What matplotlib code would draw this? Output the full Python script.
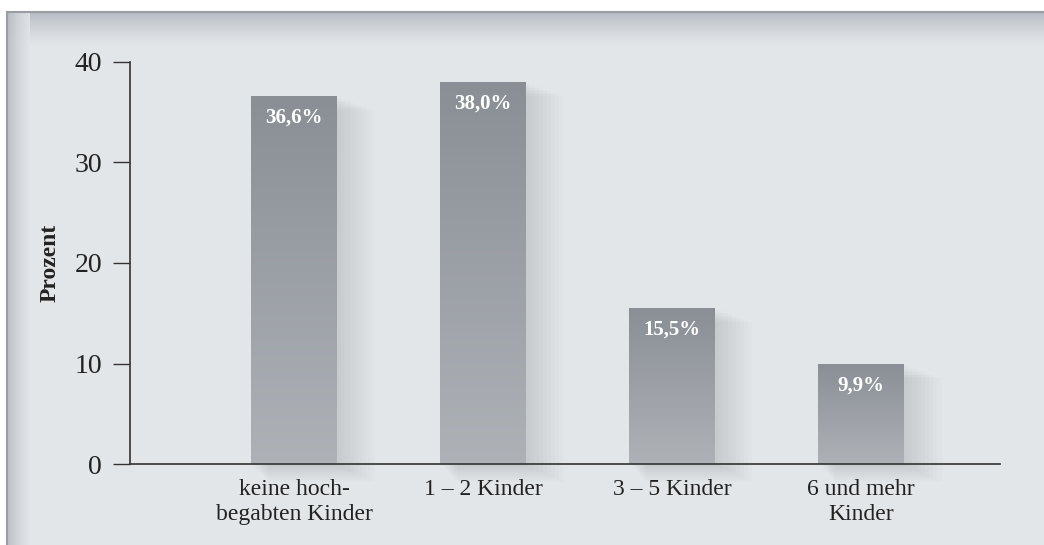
import numpy as np
import matplotlib.pyplot as plt
from matplotlib.patches import Rectangle

plt.rcParams['font.family'] = ['Liberation Serif', 'DejaVu Serif']

categories = ["keine hoch-\nbegabten Kinder", "1 – 2 Kinder", "3 – 5 Kinder", "6 und mehr\nKinder"]
values = [36.6, 38.0, 15.5, 9.9]
value_labels = ["36,6%", "38,0%", "15,5%", "9,9%"]
y_ticks = [0, 10, 20, 30, 40]

W, H = 1044, 545
fig = plt.figure(figsize=(W / 100, H / 100), dpi=100)
fig.patch.set_facecolor("white")

# background panel with shaded top/left edge
bg = fig.add_axes([0, 0, 1, 1])
bg.set_xlim(0, W)
bg.set_ylim(H, 0)
bg.axis("off")
bg.add_patch(Rectangle((7, 12), W, H, facecolor="#e3e6e9", edgecolor="none"))
c0 = np.array([0.70, 0.72, 0.75])
c1 = np.array([0.89, 0.90, 0.91])
top = np.linspace(0, 1, 64).reshape(-1, 1)
grad_top = c0 + (c1 - c0) * top[..., None] ** 0.7
bg.imshow(grad_top, extent=(7, W, 45, 12), aspect="auto", zorder=1)
left = np.linspace(0, 1, 64).reshape(1, -1)
grad_left = c0 + (c1 - c0) * left[..., None] ** 0.7
bg.imshow(grad_left, extent=(7, 30, H, 12), aspect="auto", zorder=1, alpha=0.9)
bg.plot([7, W], [12, 12], color="#9a9ea3", lw=1.5, zorder=2)
bg.plot([7, 7], [12, H], color="#9a9ea3", lw=1.5, zorder=2)

ax = fig.add_axes([130 / W, (H - 464) / H, 870 / W, (464 - 62) / H])
ax.patch.set_alpha(0)
x = np.arange(len(categories))
width = 0.455

grad = np.linspace(0, 1, 100).reshape(-1, 1)
ctop = np.array([0x8a, 0x8f, 0x96]) / 255
cbot = np.array([0xae, 0xb2, 0xb7]) / 255
bar_img = ctop + (cbot - ctop) * grad[..., None]

for xi, v, lab in zip(x, values, value_labels):
    # soft shadow
    for k in range(1, 10):
        ax.add_patch(Rectangle((xi - width / 2 + 0.01 * k, -0.2 * k), width + 0.012 * k, v + 0.05 * k,
                               facecolor="#6a7078", alpha=0.022, edgecolor="none", zorder=1,
                               clip_on=False))
    ax.imshow(bar_img, extent=(xi - width / 2, xi + width / 2, 0, v), aspect="auto", zorder=2)
    ax.text(xi, v - 1.1, lab, ha="center", va="top", color="white", fontsize=15,
            fontweight="bold", zorder=3)

ax.set_xlim(-0.868, 3.735)
ax.set_ylim(0, 40)
ax.set_yticks(y_ticks)
ax.set_yticklabels([str(t) for t in y_ticks])
ax.set_xticks(x)
ax.set_xticklabels(categories, linespacing=1.25)
ax.tick_params(axis="x", length=0, labelsize=17, pad=11, colors="#222222")
ax.tick_params(axis="y", length=12, width=1, labelsize=20, pad=8, colors="#333333",
               labelcolor="#222222")
for s in ["top", "right"]:
    ax.spines[s].set_visible(False)
for s in ["left", "bottom"]:
    ax.spines[s].set_color("#333333")
    ax.spines[s].set_linewidth(1.2)
ax.set_ylabel("Prozent", fontsize=17, fontweight="bold", labelpad=10, color="#222222")

fig.savefig("out.png", dpi=100)
